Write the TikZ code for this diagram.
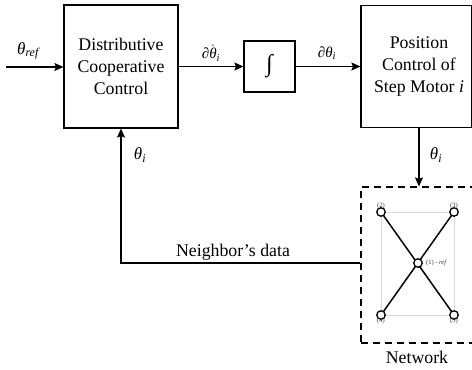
\documentclass[tikz,border=0pt]{standalone}
\usepackage{fontspec}
\setmainfont{Liberation Serif}
\usetikzlibrary{arrows.meta}
\newcommand{\thsym}{{\itshape θ}}
\newcommand{\thdot}{$\dot{\hbox{\itshape θ}}$}
\begin{document}
\begin{tikzpicture}[x=1pt,y=-1pt,
  blk/.style={draw, line width=1.2pt, inner sep=0pt},
  big/.style={font=\fontsize{17.8}{22}\selectfont, align=center, inner sep=0pt},
  sym/.style={font=\fontsize{17}{19}\selectfont, inner sep=0pt},
  conn/.style={line width=1.2pt, -{Stealth[length=9pt,width=8pt,inset=1.5pt]}},
  vert/.style={circle, draw, fill=white, line width=1.3pt, minimum size=8.5pt, inner sep=0pt},
  edge/.style={line width=1.5pt},
  tiny/.style={font=\fontsize{6.5}{7}\selectfont, text=black!80, inner sep=0pt}
]
\useasboundingbox (0,0) rectangle (472,370);
\clip (0,0) rectangle (472,370);

% main blocks
\node[blk, minimum width=114pt, minimum height=123pt] (dcc) at (121,66.5) {};
\node[big] at (dcc) {Distributive\\Cooperative\\Control};
\node[blk, minimum width=51pt, minimum height=51pt, font=\fontsize{24}{26}\selectfont] (integ) at (269.5,66.5) {∫};
\node[blk, minimum width=111pt, minimum height=122pt] (pos) at (416.5,66.5) {};
\node[big] (postxt) at (419,66) {Position\\Control of\\Step Motor \textit{i}};

% network frame
\node[draw, line width=1.2pt, dash pattern=on 7pt off 5pt, minimum width=118pt, minimum height=156pt] (net) at (420,265) {};

% network graph
\coordinate (c2) at (381,212);
\coordinate (c3) at (454,212);
\coordinate (c4) at (381,315);
\coordinate (c5) at (454,315);
\coordinate (c1) at (418,263);
\draw[black!15, line width=0.8pt] (c2) rectangle (c5);
\draw[edge] (c2) -- (c5) (c3) -- (c4);
\node[vert] (n1) at (c1) {};
\node[vert] (n2) at (c2) {};
\node[vert] (n3) at (c3) {};
\node[vert] (n4) at (c4) {};
\node[vert] (n5) at (c5) {};
\node[tiny, above=3pt] at (n2) {(2)};
\node[tiny, above=3pt] at (n3) {(3)};
\node[tiny, below=3pt] at (n4) {(4)};
\node[tiny, below=3pt] at (n5) {(5)};
\node[tiny, anchor=west] at ([xshift=3pt]n1.east) {(1) - \textit{ref}};
\node[big] at (417,357) {Network};

% signal flow
\coordinate (in) at (6,67);
\draw[conn] (in) -- (dcc.west |- in);
\draw[conn] (dcc.east |- integ) -- (integ.west);
\draw[conn] (integ.east) -- (pos.west |- integ);
\draw[conn] (pos.south -| postxt) -- (net.north -| postxt);
\draw[conn] (net.west |- n1) -- (dcc.south |- n1) -- (dcc.south);

% labels
\node[sym] at (28,51) {\thsym\textsubscript{\itshape ref}};
\node[sym, font=\fontsize{15}{18}\selectfont] at (211,53) {∂\thdot\textsubscript{\itshape i}};
\node[sym, font=\fontsize{15}{18}\selectfont] at (327,53) {∂\thsym\textsubscript{\itshape i}};
\node[sym] at (140,155) {\thsym\textsubscript{\itshape i}};
\node[sym] at (436,155) {\thsym\textsubscript{\itshape i}};
\node[big] at (233,252) {Neighbor’s data};
\end{tikzpicture}
\end{document}
